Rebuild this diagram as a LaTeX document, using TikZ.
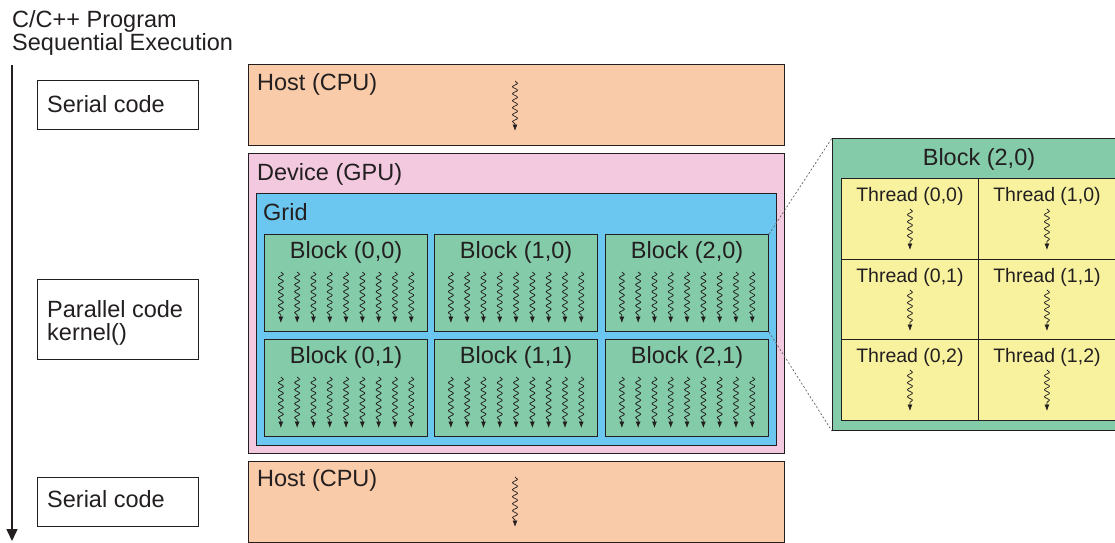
\documentclass[tikz,border=0pt]{standalone}
\usepackage{fontspec}
\setmainfont{Liberation Sans}
\usetikzlibrary{decorations.pathmorphing,arrows.meta,calc}
\definecolor{ink}{HTML}{231F20}
\definecolor{peach}{HTML}{FACBA8}
\definecolor{pinkdev}{HTML}{F3C9E0}
\definecolor{gridblue}{HTML}{6CC7F0}
\definecolor{blockgreen}{HTML}{84CBA9}
\definecolor{threadyellow}{HTML}{F8F29E}
\tikzset{
  frame/.style={draw=ink, line width=1.1pt, fill=#1, anchor=north west, inner sep=0pt},
  codebox/.style={draw=ink, line width=1.1pt, fill=white, anchor=north west, inner sep=0pt},
  lbl/.style={text=ink, font=\fontsize{23.5}{24}\selectfont, inner sep=0pt, anchor=base west},
  clbl/.style={text=ink, font=\fontsize{23.5}{24}\selectfont, inner sep=0pt, anchor=base},
  tlbl/.style={text=ink, font=\fontsize{19.5}{20}\selectfont, inner sep=0pt, anchor=base},
  thr/.style={draw=ink, line width=0.75pt, decorate,
    decoration={snake, amplitude=2.5pt, segment length=7pt, post length=6pt},
    -{Latex[length=6.5pt,width=5pt]}},
  zoomline/.style={draw=ink!70, line width=0.7pt, dash pattern=on 2pt off 2pt},
}
\begin{document}
\begin{tikzpicture}[x=1pt,y=-1pt]
\useasboundingbox (0,0) rectangle (1115,542);
\clip (0,0) rectangle (1115,542);
% left column
\node[lbl] (title1) at (12,27) {C/C++ Program};
\node[lbl] (title2) at (12,50) {Sequential Execution};
\coordinate (tl0) at (12,65);
\coordinate (tl1) at (12,541);
\draw[draw=ink, line width=1.4pt, -{Triangle[length=12pt,width=11pt]}] (tl0) -- (tl1);
\node[codebox, minimum width=161, minimum height=49] (serial1) at (37,80) {};
\node[lbl] (serial1t) at (47,112) {Serial code};
\node[codebox, minimum width=161, minimum height=80] (par) at (37,279) {};
\node[lbl] (part1) at (47,317) {Parallel code};
\node[lbl] (part2) at (47,340) {kernel()};
\node[codebox, minimum width=161, minimum height=49] (serial2) at (37,477) {};
\node[lbl] (serial2t) at (47,507) {Serial code};
% host 1
\node[frame=peach, minimum width=536, minimum height=81] (host1) at (248,64) {};
\node[lbl] (host1t) at (257,90) {Host (CPU)};
\coordinate (h1a) at (515,81);
\coordinate (h1b) at (515,131);
\draw[thr] (h1a) -- (h1b);
% device
\node[frame=pinkdev, minimum width=536, minimum height=300] (dev) at (248,153) {};
\node[lbl] (devt) at (257,180) {Device (GPU)};
\node[frame=gridblue, minimum width=520, minimum height=252] (grid) at (256,193) {};
\node[lbl] (gridt) at (263,220) {Grid};
% blocks
\foreach \nm/\x/\y/\t in {b00/264/234/{Block (0,0)}, b10/434/234/{Block (1,0)}, b20/605/234/{Block (2,0)},
                          b01/264/339/{Block (0,1)}, b11/434/339/{Block (1,1)}, b21/605/339/{Block (2,1)}}{
  \node[frame=blockgreen, minimum width=163, minimum height=97] (\nm) at (\x,\y) {};
  \node[clbl] (\nm t) at ($(\nm.north)+(0,24)$) {\t};
  \foreach \i in {-4,...,4}{
    \draw[thr] ($(\nm.north)+(\i*16.3,38)$) -- ($(\nm.north)+(\i*16.3,89)$);
  }
}
% host 2
\node[frame=peach, minimum width=536, minimum height=81] (host2) at (248,461) {};
\node[lbl] (host2t) at (257,486) {Host (CPU)};
\coordinate (h2a) at (515,477);
\coordinate (h2b) at (515,527);
\draw[thr] (h2a) -- (h2b);
% zoomed block
\node[frame=blockgreen, minimum width=300, minimum height=292] (big) at (832,138) {};
\node[clbl] (bigt) at (979,165) {Block (2,0)};
\foreach \nm/\x/\y/\t in {t00/841/178/{Thread (0,0)}, t10/978/178/{Thread (1,0)},
                          t01/841/259/{Thread (0,1)}, t11/978/259/{Thread (1,1)},
                          t02/841/339/{Thread (0,2)}, t12/978/339/{Thread (1,2)}}{
  \node[frame=threadyellow, line width=0.9pt, minimum width=137, minimum height=81] (\nm) at (\x,\y) {};
  \node[tlbl] (\nm t) at ($(\nm.north)+(0,23)$) {\t};
  \draw[thr] ($(\nm.north)+(0,31)$) -- ($(\nm.north)+(0,72)$);
}
\draw[zoomline] (b20.north east) -- (big.north west);
\draw[zoomline] (b20.south east) -- (big.south west);
\end{tikzpicture}
\end{document}
